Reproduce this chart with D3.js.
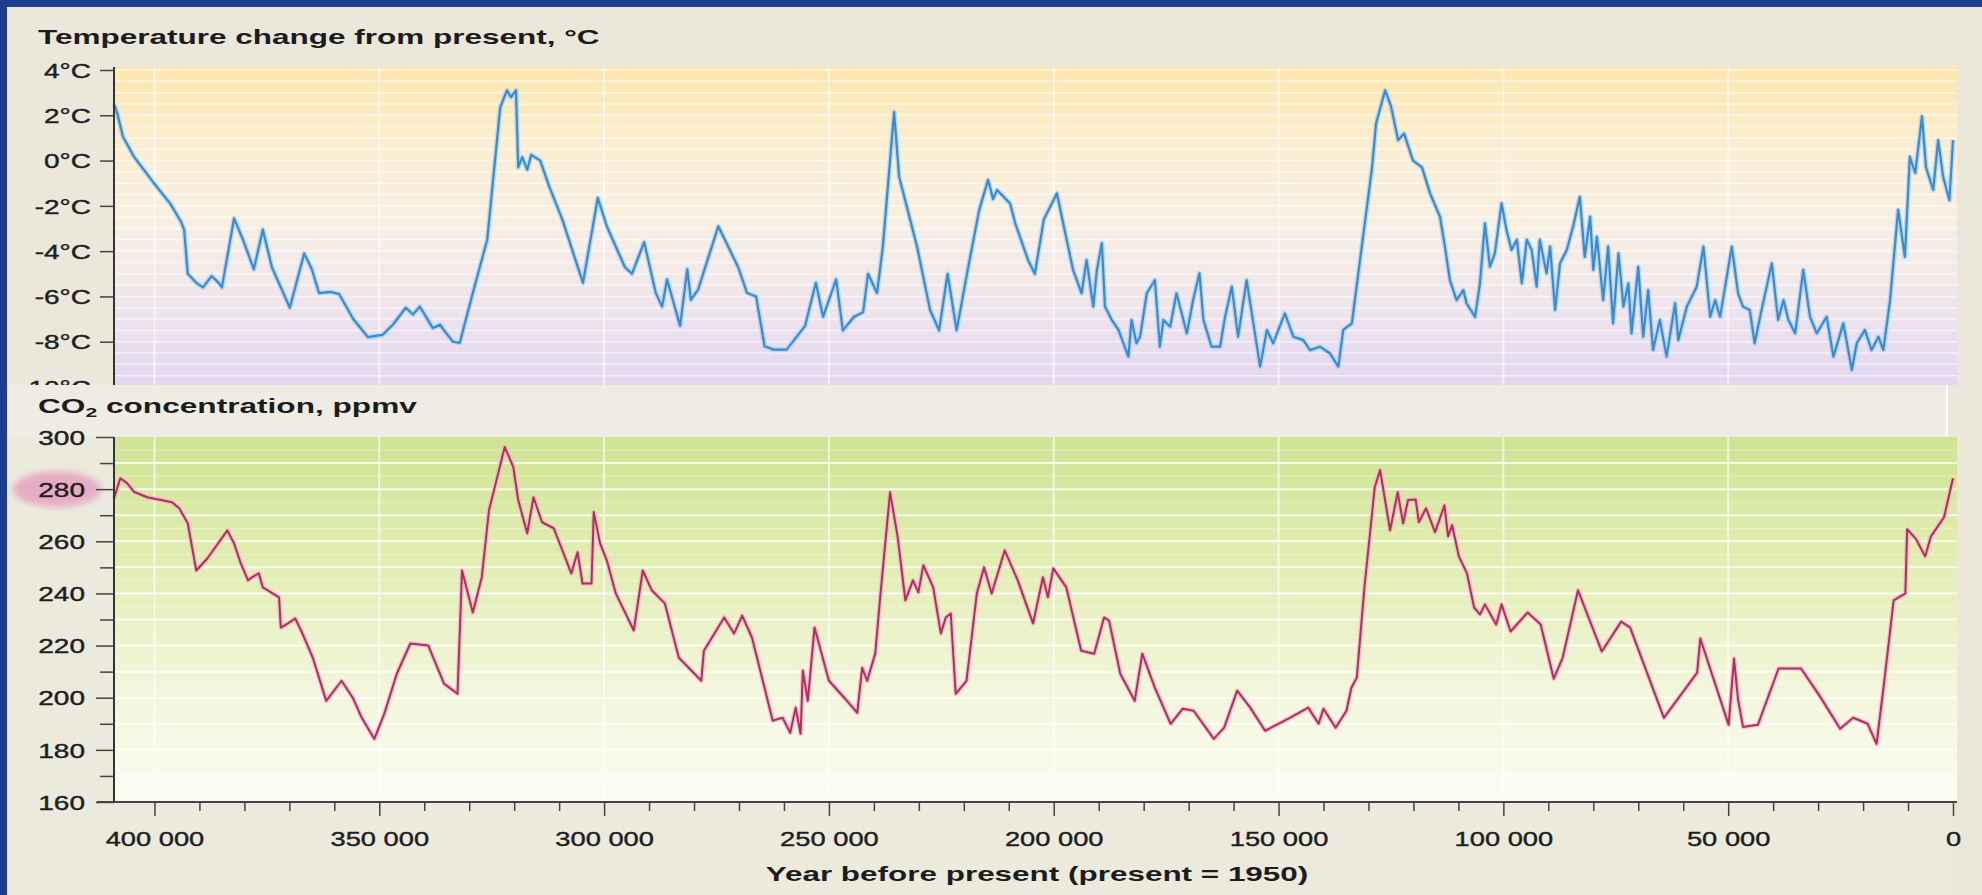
<!DOCTYPE html>
<html>
<head>
<meta charset="utf-8">
<script src="https://cdn.jsdelivr.net/npm/d3@7"></script>
<style>
  body { margin: 0; background: #1d3d8f; overflow: hidden; }
  svg { display: block; }
</style>
</head>
<body>
<svg id="chart"></svg>
<script>
const width = 1982;
const height = 895;

// Vostok record. Ages in thousands of years before present.
const tempAges = [
  409.0, 408.3, 407.0, 404.5, 400.5, 396.5, 394.1, 393.4, 392.6, 390.7,
  389.2, 387.3, 385.7, 385.0, 382.3, 380.3, 377.9, 375.9, 373.9, 369.9,
  366.7, 365.0, 363.4, 360.9, 358.9, 355.8, 352.5, 349.3, 347.0, 344.1,
  342.5, 341.0, 339.6, 338.1, 336.5, 335.2, 333.6, 332.1, 329.2, 326.0,
  323.1, 321.6, 320.7, 319.6, 319.1, 318.2, 317.1, 316.2, 314.2, 312.2,
  309.3, 304.7, 301.4, 299.4, 295.4, 293.8, 291.1, 288.5, 287.1, 286.0,
  283.1, 281.5, 280.7, 279.1, 274.6, 270.2, 268.2, 266.2, 264.3, 262.3,
  259.4, 255.3, 252.9, 251.3, 248.4, 246.9, 244.4, 242.4, 241.3, 239.3,
  238.0, 235.5, 234.4, 230.4, 227.5, 225.5, 223.6, 221.6, 219.1, 216.6,
  214.6, 213.5, 212.6, 209.7, 208.6, 205.7, 204.2, 202.2, 199.3,
  195.7, 193.8, 192.7, 191.2, 190.4, 189.3, 188.6, 187.1, 185.6, 183.4,
  182.7, 181.6, 180.8, 179.3, 177.5, 176.4, 175.6, 174.1, 172.7, 170.4,
  169.0, 167.6, 166.7, 164.9, 163.0, 161.9, 160.4, 159.0, 157.1, 154.1,
  152.6, 151.2, 148.6, 146.7, 144.5, 143.0, 140.8, 138.6, 136.7, 135.6,
  133.7,
  129.2, 128.3, 126.3, 125.0, 123.4, 122.1, 120.1, 118.1, 116.3,
  114.1, 113.0, 111.9, 110.4, 108.9, 108.2, 106.3, 105.2, 104.1, 103.0,
  101.9, 100.4, 99.3, 98.2, 97.0, 95.9, 94.8, 93.7, 92.6, 91.9,
  90.4, 89.6, 88.5, 87.4, 85.9, 84.5, 83.0, 81.9, 80.7, 80.0,
  79.2, 77.8, 76.7, 75.6, 74.4, 73.3, 72.2, 71.5, 70.0, 68.9,
  67.8, 66.7, 65.2, 63.7, 61.8, 61.1, 59.2, 57.0, 55.5, 54.0,
  52.9, 51.8, 49.2, 47.8, 46.7, 45.2, 44.1, 42.9, 40.3, 38.9,
  37.7, 36.6, 35.1, 33.3, 31.8, 30.3, 28.1, 26.6, 24.4, 22.5,
  21.4, 19.6, 18.1, 16.6, 15.5, 14.0, 12.2, 10.7, 9.6,
  8.4, 6.9, 6.0, 4.4, 3.3, 2.2, 0.8, 0.0
];
const tempValues = [
  2.5, 2.1, 1.05, 0.15, -0.9, -1.9, -2.7, -3.05, -5.0, -5.4,
  -5.6, -5.1, -5.4, -5.6, -2.55, -3.5, -4.8, -3.05, -4.7, -6.5,
  -4.1, -4.8, -5.85, -5.8, -5.9, -7.0, -7.8, -7.7, -7.25, -6.5,
  -6.8, -6.45, -6.9, -7.4, -7.25, -7.6, -8.0, -8.05, -5.85, -3.5,
  2.35, 3.1, 2.8, 3.1, -0.3, 0.15, -0.4, 0.25, 0.0, -1.15,
  -2.6, -5.4, -1.65, -2.9, -4.7, -5.0, -3.6, -5.85, -6.45, -5.25,
  -7.3, -4.8, -6.15, -5.7, -2.9, -4.7, -5.85, -6.0, -8.2, -8.35,
  -8.35, -7.3, -5.4, -6.9, -5.25, -7.5, -6.9, -6.7, -5.0, -5.85,
  -3.8, 2.15, -0.7, -3.8, -6.6, -7.5, -5.0, -7.5, -4.8, -2.2,
  -0.85, -1.7, -1.3, -1.9, -2.75, -4.4, -5.0, -2.6, -1.45,
  -4.83, -5.86, -4.39, -6.45, -4.83, -3.65, -6.45, -7.04, -7.48, -8.66,
  -7.04, -8.07, -7.78, -5.86, -5.28, -8.22, -7.04, -7.34, -5.86, -7.63,
  -6.16, -4.98, -7.04, -8.22, -8.22, -6.9, -5.57, -7.78, -5.28, -9.1,
  -7.48, -8.07, -6.75, -7.78, -7.93, -8.37, -8.22, -8.51, -9.1, -7.48,
  -7.19,
  -0.3, 1.65, 3.1, 2.4, 0.9, 1.2, 0.0, -0.3, -1.45,
  -2.48, -3.8, -5.28, -6.16, -5.72, -6.3, -6.9, -5.42, -2.77, -4.69,
  -4.1, -1.89, -3.07, -3.95, -3.5, -5.42, -3.5, -3.95, -5.57, -3.5,
  -4.98, -3.8, -6.6, -4.54, -3.95, -2.92, -1.6, -4.25, -2.48, -4.83,
  -3.36, -6.16, -3.8, -7.19, -4.1, -6.45, -5.42, -7.63, -4.69, -7.78,
  -5.72, -8.37, -7.04, -8.66, -6.3, -7.93, -6.45, -5.57, -3.8, -6.9,
  -6.16, -6.9, -3.8, -5.86, -6.45, -6.6, -8.07, -6.9, -4.54, -7.04,
  -6.16, -7.04, -7.63, -4.83, -6.9, -7.63, -6.9, -8.66, -7.19, -9.25,
  -8.07, -7.48, -8.37, -7.78, -8.37, -6.16, -2.18, -4.25, 0.17,
  -0.55, 1.95, -0.3, -1.3, 0.9, -0.7, -1.75, 0.9
];

const co2Ages = [
  409.0, 407.6, 406.1, 404.5, 401.6, 396.1, 394.5, 392.6, 390.7, 388.2, 383.8, 382.3, 380.8, 379.2,
  378.3, 376.8, 375.9, 374.8, 372.3, 371.9, 370.3, 368.7, 367.4, 364.8, 361.8, 358.4, 355.9, 353.9,
  351.1, 348.9, 346.1, 343.1, 339.1, 335.6, 332.6, 331.6, 329.2, 327.2, 325.6, 324.1, 322.1, 320.2,
  319.1, 317.1, 315.7, 313.8, 311.2, 307.3, 305.9, 304.8, 302.8, 302.3, 300.9, 299.4, 297.4, 293.4,
  291.4, 289.4, 286.5, 283.4, 278.4, 277.8, 273.3, 271.1, 269.3, 267.1, 262.5, 260.3, 258.6, 257.4,
  256.3, 255.8, 254.7, 253.2, 250.0, 246.6, 243.7, 242.6, 241.5, 239.7, 238.6, 236.4, 234.7, 233.0,
  231.3, 230.1, 229.0, 226.8, 225.1, 224.0, 222.9, 221.8, 219.4, 217.1, 215.5, 213.8, 210.9, 208.0,
  204.6, 202.4, 201.3, 200.1, 197.2, 193.9, 191.0, 188.8, 187.7, 185.2, 182.0, 180.3, 177.5, 174.0,
  171.3, 168.9, 164.4, 162.1, 159.2, 156.3, 153.0, 147.9, 143.4, 141.1, 140.0, 137.3, 134.9, 133.8,
  132.6, 130.9, 128.6, 127.4, 125.2, 123.5, 122.3, 121.2, 119.5, 118.8, 117.2, 115.2, 113.1, 112.3,
  111.4, 109.9, 108.1, 106.5, 105.2, 104.1, 101.6, 100.4, 98.4, 94.6, 91.7, 88.8, 86.8, 83.4,
  78.1, 73.8, 71.8, 64.3, 56.9, 56.2, 49.9, 48.7, 47.8, 46.7, 43.4, 38.8, 33.8, 29.7,
  25.1, 22.2, 19.0, 17.0, 15.4, 13.2, 10.6, 10.2, 8.2, 6.2, 4.9, 2.0, 0.0
];
const co2Values = [
  276.5, 284.2, 282.3, 278.9, 276.9, 275.0, 272.7, 266.9, 248.8, 253.5, 264.2, 259.2, 251.5, 245.0,
  246.2, 247.7, 242.3, 241.2, 238.5, 226.9, 228.5, 230.4, 225.8, 215.4, 198.8, 206.5, 200.0, 192.3,
  184.2, 193.8, 209.2, 220.8, 220.0, 205.4, 201.5, 248.8, 232.7, 246.2, 271.9, 282.3, 296.2, 288.5,
  275.8, 263.1, 276.9, 267.3, 265.0, 247.7, 255.8, 243.8, 243.8, 271.2, 259.2, 252.7, 240.0, 225.8,
  248.8, 241.2, 236.2, 215.4, 206.5, 218.0, 230.8, 224.6, 231.5, 223.0, 191.2, 192.3, 186.5, 196.2,
  186.2, 210.4, 198.8, 226.9, 206.5, 200.0, 194.2, 211.5, 206.5, 216.9, 238.5, 278.8, 261.5, 237.3,
  245.0, 240.4, 250.8, 242.3, 224.6, 230.8, 232.3, 201.5, 206.5, 240.0, 250.0, 240.0, 256.5, 245.0,
  228.5, 246.2, 238.5, 249.6, 242.3, 218.0, 216.9, 230.8, 229.6, 209.2, 198.8, 216.9, 203.8, 190.0,
  195.8, 195.0, 184.2, 188.5, 202.7, 196.2, 187.3, 191.9, 196.2, 190.0, 195.8, 188.5, 195.0, 203.8,
  207.7, 242.3, 280.8, 287.3, 264.2, 278.8, 266.9, 275.8, 276.0, 267.3, 272.7, 263.5, 273.8, 261.9,
  266.2, 254.2, 247.7, 234.6, 231.9, 235.8, 228.1, 235.8, 225.4, 232.7, 228.1, 207.3, 215.4, 241.2,
  217.7, 229.2, 226.9, 192.3, 209.6, 222.7, 189.6, 215.0, 199.2, 188.8, 189.6, 211.2, 211.2, 200.8,
  188.1, 192.3, 190.0, 182.3, 204.6, 237.3, 240.0, 264.6, 260.8, 254.2, 261.9, 269.2, 284.2
];

const tempTicks = [4, 2, 0, -2, -4, -6, -8, -10];
const co2Ticks = [300, 290, 280, 270, 260, 250, 240, 230, 220, 210, 200, 190, 180, 170, 160];
const co2Labels = [300, 280, 260, 240, 220, 200, 180, 160];
const ageTicks = d3.range(0, 410, 10);
const ageLabels = [400, 350, 300, 250, 200, 150, 100, 50, 0];
const hiddenAgeLabels = [250, 200, 150];

const plotLeft = 114, plotRight = 1957;

const x = d3.scaleLinear().domain([409, 0]).range([plotLeft, 1953]);
const yT = d3.scaleLinear().domain([-10, 4]).range([387, 70]);
const yC = d3.scaleLinear().domain([160, 300]).range([802, 437]);

const fmtAge = d => d === 0 ? "0" : d3.format(",")(d * 1000).replace(/,/g, " ");

const svg = d3.select("#chart")
    .attr("width", width)
    .attr("height", height)
    .style("font-family", "'Liberation Sans', Arial, sans-serif");

const defs = svg.append("defs");

const gT = defs.append("linearGradient").attr("id", "gradT")
    .attr("x1", 0).attr("x2", 0).attr("y1", 0).attr("y2", 1);
[[0, "#fde6ad"], [0.25, "#fbeed2"], [0.5, "#f7efe4"], [0.75, "#efe5ec"], [1, "#e2d6f0"]]
  .forEach(([o, c]) => gT.append("stop").attr("offset", o).attr("stop-color", c));

const gC = defs.append("linearGradient").attr("id", "gradC")
    .attr("x1", 0).attr("x2", 0).attr("y1", 0).attr("y2", 1);
[[0, "#cfe393"], [0.3, "#e0ecae"], [0.65, "#f1f5d6"], [1, "#fcfcf2"]]
  .forEach(([o, c]) => gC.append("stop").attr("offset", o).attr("stop-color", c));

defs.append("filter").attr("id", "blur")
  .append("feGaussianBlur").attr("stdDeviation", 3);

// the CO2 panel is pasted over the bottom of the temperature panel
defs.append("clipPath").attr("id", "clipT")
  .append("rect").attr("x", 0).attr("y", 0).attr("width", width).attr("height", 385);

// page
svg.append("rect").attr("width", width).attr("height", height).attr("fill", "#1d3d8f");
svg.append("rect").attr("x", 7).attr("y", 7).attr("width", width - 7).attr("height", height - 7)
    .attr("fill", "#ebe7da");

// stretch text horizontally to a given width, keeping its anchor point
function fit(sel, tx, ty, target) {
  sel.attr("x", 0).attr("y", 0);
  const w = sel.node().getComputedTextLength();
  sel.attr("transform", `translate(${tx},${ty}) scale(${target / w},1)`);
}

// ---------- temperature panel ----------
const panelT = svg.append("g").attr("clip-path", "url(#clipT)");

panelT.append("rect")
    .attr("x", plotLeft).attr("y", 67)
    .attr("width", plotRight - plotLeft).attr("height", 387 - 67)
    .attr("fill", "url(#gradT)");

panelT.append("g").selectAll("line")
  .data(d3.range(-10, 4.01, 0.5))
  .join("line")
    .attr("x1", plotLeft).attr("x2", plotRight)
    .attr("y1", d => yT(d)).attr("y2", d => yT(d))
    .attr("stroke", "#fff").attr("stroke-opacity", 0.6).attr("stroke-width", 1.5);

panelT.append("g").selectAll("line")
  .data(ageLabels.filter(d => d > 0))
  .join("line")
    .attr("x1", d => x(d)).attr("x2", d => x(d))
    .attr("y1", 67).attr("y2", 387)
    .attr("stroke", "#fff").attr("stroke-opacity", 0.6).attr("stroke-width", 2);

const lineT = d3.line().x((d, i) => x(tempAges[i])).y(d => yT(d));
panelT.append("path").datum(tempValues).attr("d", lineT)
    .attr("fill", "none").attr("stroke", "#a3cff0").attr("stroke-width", 5)
    .attr("stroke-opacity", 0.7).attr("stroke-linejoin", "round");
panelT.append("path").datum(tempValues).attr("d", lineT)
    .attr("fill", "none").attr("stroke", "#3b8bd3").attr("stroke-width", 2.2)
    .attr("stroke-linejoin", "round");

const axT = panelT.append("g").attr("transform", `translate(${plotLeft},0)`)
    .call(d3.axisLeft(yT).tickValues(tempTicks).tickSize(14).tickSizeOuter(0)
      .tickFormat(d => `${d}°C`));
axT.select(".domain").attr("d", "M0,67V387").attr("stroke", "#333").attr("stroke-width", 2);
axT.selectAll(".tick line").attr("stroke", "#444").attr("stroke-width", 1.5);
axT.selectAll(".tick text")
    .attr("x", 0).attr("dy", "0.36em")
    .attr("transform", "translate(-23,0) scale(1.4,1)")
    .attr("font-size", 20).attr("fill", "#1e1e1e")
    .attr("stroke", "#1e1e1e").attr("stroke-width", 0.4).attr("font-family", null);

// x labels of the temperature panel: only their tops show above the CO2 panel
panelT.append("g").selectAll("text")
  .data(hiddenAgeLabels)
  .join("text")
    .attr("text-anchor", "middle").attr("font-size", 21).attr("fill", "#1e1e1e")
    .attr("transform", d => `translate(${x(d)},399) scale(1.3,1)`)
    .text(fmtAge);

const t1 = panelT.append("text").attr("font-size", 20).attr("font-weight", "bold")
    .attr("fill", "#1c1c1c").text("Temperature change from present, °C");
fit(t1, 38, 44, 562);

// ---------- CO2 panel ----------
const panelC = svg.append("g");

panelC.append("rect").attr("x", 7).attr("y", 385).attr("width", 1947 - 7).attr("height", height - 385)
    .attr("fill", "#ece9dd");
panelC.append("rect").attr("x", 7).attr("y", 385).attr("width", 1947 - 7).attr("height", 52)
    .attr("fill", "#efece3");
panelC.append("line").attr("x1", 1947).attr("x2", 1947).attr("y1", 385).attr("y2", 437)
    .attr("stroke", "#fff").attr("stroke-width", 2);

panelC.append("rect")
    .attr("x", plotLeft).attr("y", 437)
    .attr("width", plotRight - plotLeft).attr("height", 802 - 437)
    .attr("fill", "url(#gradC)");

panelC.append("g").selectAll("line")
  .data(d3.range(165, 300, 5))
  .join("line")
    .attr("x1", plotLeft).attr("x2", plotRight)
    .attr("y1", d => yC(d)).attr("y2", d => yC(d))
    .attr("stroke", "#fff")
    .attr("stroke-opacity", d => d % 10 === 0 ? 0.8 : 0.35)
    .attr("stroke-width", d => d % 10 === 0 ? 2 : 1);

panelC.append("g").selectAll("line")
  .data(ageLabels.filter(d => d > 0))
  .join("line")
    .attr("x1", d => x(d)).attr("x2", d => x(d))
    .attr("y1", 437).attr("y2", 802)
    .attr("stroke", "#fff").attr("stroke-opacity", 0.65).attr("stroke-width", 2);

const lineC = d3.line().x((d, i) => x(co2Ages[i])).y(d => yC(d));
panelC.append("path").datum(co2Values).attr("d", lineC)
    .attr("fill", "none").attr("stroke", "#f3a9c7").attr("stroke-width", 4.5)
    .attr("stroke-opacity", 0.7).attr("stroke-linejoin", "round");
panelC.append("path").datum(co2Values).attr("d", lineC)
    .attr("fill", "none").attr("stroke", "#b42e5c").attr("stroke-width", 2)
    .attr("stroke-linejoin", "round");

// pink highlight behind the pre-industrial 280 ppmv label
panelC.append("ellipse").attr("cx", 57).attr("cy", yC(280)).attr("rx", 44).attr("ry", 18)
    .attr("fill", "#e6a6c2").attr("opacity", 0.9).attr("filter", "url(#blur)");

const axC = panelC.append("g").attr("transform", `translate(${plotLeft},0)`)
    .call(d3.axisLeft(yC).tickValues(co2Ticks).tickSize(18).tickSizeOuter(0)
      .tickFormat(d => co2Labels.includes(d) ? d : ""));
axC.select(".domain").attr("d", "M0,437V802").attr("stroke", "#333").attr("stroke-width", 2);
axC.selectAll(".tick line").attr("stroke", "#444").attr("stroke-width", 1.5)
    .attr("x2", d => co2Labels.includes(d) ? -18 : -14);
axC.selectAll(".tick text")
    .attr("x", 0).attr("dy", "0.36em")
    .attr("transform", "translate(-29,0) scale(1.4,1)")
    .attr("font-size", 20).attr("fill", "#1e1e1e")
    .attr("stroke", "#1e1e1e").attr("stroke-width", 0.4).attr("font-family", null);

const axX = panelC.append("g").attr("transform", "translate(0,802)")
    .call(d3.axisBottom(x).tickValues(ageTicks).tickSize(9).tickSizeOuter(0)
      .tickFormat(d => ageLabels.includes(d) ? fmtAge(d) : ""));
axX.select(".domain").attr("d", `M97,0H${plotRight}`).attr("stroke", "#444").attr("stroke-width", 2);
axX.selectAll(".tick line").attr("stroke", "#444").attr("stroke-width", 1.5)
    .attr("y2", d => d % 50 === 0 ? 14 : 9);
axX.selectAll(".tick text")
    .attr("y", 29).attr("dy", "0.71em").attr("x", 0)
    .attr("transform", "scale(1.3,1)")
    .attr("font-size", 21).attr("fill", "#1e1e1e")
    .attr("stroke", "#1e1e1e").attr("stroke-width", 0.4).attr("font-family", null);

const t2 = panelC.append("text").attr("font-size", 19.5).attr("font-weight", "bold").attr("fill", "#1c1c1c");
t2.append("tspan").text("CO");
t2.append("tspan").attr("font-size", 13).attr("dy", 4).text("2");
t2.append("tspan").attr("dy", -4).text(" concentration, ppmv");
fit(t2, 38, 413, 379);

const t3 = panelC.append("text").attr("font-size", 19.5).attr("font-weight", "bold")
    .attr("fill", "#1c1c1c").attr("text-anchor", "middle")
    .text("Year before present (present = 1950)");
fit(t3, 1037, 881, 543);
</script>
</body>
</html>
